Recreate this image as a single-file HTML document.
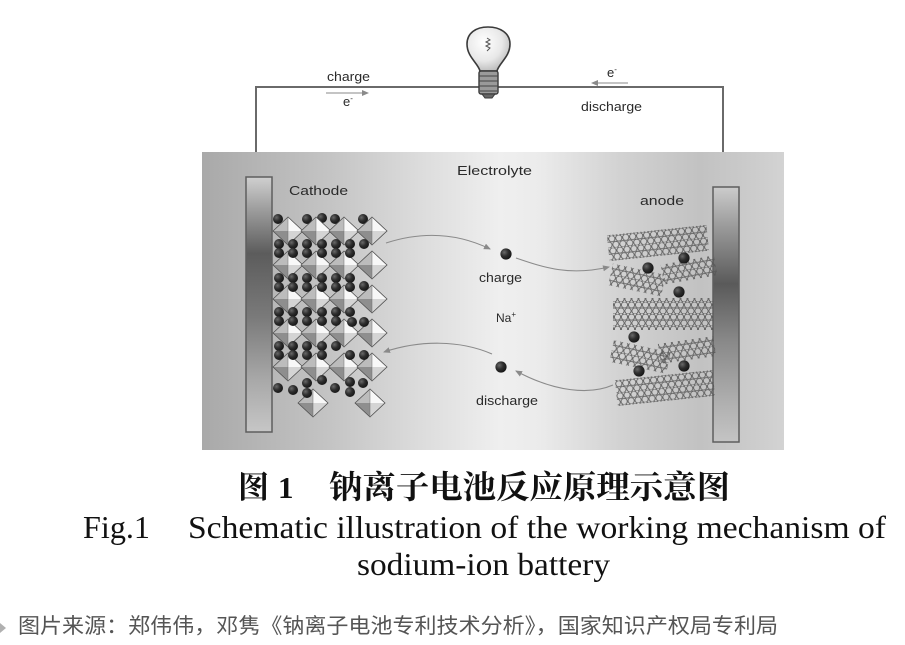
<!DOCTYPE html>
<html>
<head>
<meta charset="utf-8">
<style>
html,body{margin:0;padding:0;background:#fff;}
svg{display:block;}
</style>
</head>
<body>
<svg width="905" height="645" viewBox="0 0 905 645" xmlns="http://www.w3.org/2000/svg">
<defs>
  <linearGradient id="elec" gradientUnits="userSpaceOnUse" x1="202" y1="0" x2="784" y2="0">
    <stop offset="0" stop-color="#a9a9a9"/>
    <stop offset="0.082" stop-color="#b3b3b3"/>
    <stop offset="0.22" stop-color="#c4c4c4"/>
    <stop offset="0.375" stop-color="#dcdcdc"/>
    <stop offset="0.512" stop-color="#efefef"/>
    <stop offset="0.581" stop-color="#ebebeb"/>
    <stop offset="0.718" stop-color="#d2d2d2"/>
    <stop offset="0.856" stop-color="#c2c2c2"/>
    <stop offset="0.924" stop-color="#c9c9c9"/>
    <stop offset="1" stop-color="#d3d3d3"/>
  </linearGradient>
  <linearGradient id="barC" x1="0" y1="0" x2="0" y2="1">
    <stop offset="0" stop-color="#d0d0d0"/>
    <stop offset="0.12" stop-color="#a0a0a0"/>
    <stop offset="0.3" stop-color="#5c5c5c"/>
    <stop offset="0.55" stop-color="#7a7a7a"/>
    <stop offset="0.8" stop-color="#a9a9a9"/>
    <stop offset="1" stop-color="#c6c6c6"/>
  </linearGradient>
  <linearGradient id="barA" x1="0" y1="0" x2="0" y2="1">
    <stop offset="0" stop-color="#cccccc"/>
    <stop offset="0.15" stop-color="#9c9c9c"/>
    <stop offset="0.38" stop-color="#5a5a5a"/>
    <stop offset="0.6" stop-color="#888888"/>
    <stop offset="0.85" stop-color="#b0b0b0"/>
    <stop offset="1" stop-color="#c4c4c4"/>
  </linearGradient>
  <radialGradient id="ballg" cx="0.35" cy="0.35" r="0.7">
    <stop offset="0" stop-color="#6a6a6a"/>
    <stop offset="0.5" stop-color="#2e2e2e"/>
    <stop offset="1" stop-color="#151515"/>
  </radialGradient>
  <radialGradient id="bulbg" cx="0.4" cy="0.35" r="0.7">
    <stop offset="0" stop-color="#ffffff"/>
    <stop offset="0.6" stop-color="#e8e8e8"/>
    <stop offset="1" stop-color="#b8b8b8"/>
  </radialGradient>
  <pattern id="hex" patternUnits="userSpaceOnUse" width="7" height="12.1">
    <circle cx="3.5" cy="3.02" r="3.1" fill="none" stroke="#555" stroke-width="0.8"/>
    <circle cx="0" cy="9.07" r="3.1" fill="none" stroke="#555" stroke-width="0.8"/>
    <circle cx="7" cy="9.07" r="3.1" fill="none" stroke="#555" stroke-width="0.8"/>
  </pattern>
  <g id="oc">
    <polygon points="-15,0 0,-14 0,0" fill="#bcbcbc"/>
    <polygon points="0,-14 15,0 0,0" fill="#f8f8f8"/>
    <polygon points="-15,0 0,14 0,0" fill="#8e8e8e"/>
    <polygon points="0,0 15,0 0,14" fill="#d4d4d4"/>
    <polygon points="-15,0 0,-14 15,0 0,14" fill="none" stroke="#505050" stroke-width="0.8"/>
    <line x1="0" y1="-14" x2="0" y2="14" stroke="#707070" stroke-width="0.5"/>
  </g>
  <circle id="b" r="5" fill="url(#ballg)"/>
  <circle id="bb" r="5.6" fill="url(#ballg)"/>
  <marker id="ah" markerWidth="8" markerHeight="8" refX="6" refY="3" orient="auto" markerUnits="userSpaceOnUse">
    <path d="M0,0 L7,3 L0,6 z" fill="#8a8a8a"/>
  </marker>
</defs>

<rect x="0" y="0" width="905" height="645" fill="#fff"/>

<!-- wires -->
<g stroke="#6a6a6a" stroke-width="2" fill="none">
  <polyline points="256,177 256,87 723,87 723,187"/>
</g>

<!-- bulb -->
<g>
  <path d="M480,71 C478,63 467,57 467,44 C467,33 476,27 488,27 C500,27 510,33 510,44 C510,57 499,63 497,71 Z" fill="url(#bulbg)" stroke="#3a3a3a" stroke-width="1.6"/>
  <path d="M487,38 l3,2 l-4,2 l4,2 l-4,2 l4,2 l-3,3" fill="none" stroke="#555" stroke-width="1"/>
  <rect x="479" y="71" width="19" height="23" rx="2" fill="#9a9a9a" stroke="#3a3a3a" stroke-width="1.4"/>
  <g stroke="#444" stroke-width="1">
    <line x1="479" y1="76" x2="498" y2="76"/>
    <line x1="479" y1="81" x2="498" y2="81"/>
    <line x1="479" y1="86" x2="498" y2="86"/>
    <line x1="480" y1="91" x2="497" y2="91"/>
  </g>
  <path d="M482,94 L495,94 L492,98 L485,98 Z" fill="#666" stroke="#3a3a3a" stroke-width="1"/>
</g>

<!-- top labels -->
<g font-family="Liberation Sans, sans-serif" font-size="13" fill="#2a2a2a">
  <text x="327" y="81" textLength="43" lengthAdjust="spacingAndGlyphs">charge</text>
  <text x="343" y="106">e<tspan dy="-5" font-size="8">-</tspan></text>
  <text x="607" y="77">e<tspan dy="-5" font-size="8">-</tspan></text>
  <text x="581" y="111" textLength="61" lengthAdjust="spacingAndGlyphs">discharge</text>
</g>
<line x1="326" y1="93" x2="368" y2="93" stroke="#8a8a8a" stroke-width="1" marker-end="url(#ah)"/>
<line x1="628" y1="83" x2="592" y2="83" stroke="#8a8a8a" stroke-width="1" marker-end="url(#ah)"/>

<!-- electrolyte box -->
<rect x="202" y="152" width="582" height="298" fill="url(#elec)"/>

<!-- bars -->
<rect x="246" y="177" width="26" height="255" fill="url(#barC)" stroke="#5e5e5e" stroke-width="1.5"/>
<rect x="713" y="187" width="26" height="255" fill="url(#barA)" stroke="#5e5e5e" stroke-width="1.5"/>

<!-- cathode crystal -->
<g>
  <use href="#b" x="278" y="219"/><use href="#b" x="307" y="219"/><use href="#b" x="322" y="218"/><use href="#b" x="335" y="219"/><use href="#b" x="363" y="219"/>
  <use href="#oc" x="288" y="231"/><use href="#oc" x="316" y="231"/><use href="#oc" x="344" y="231"/><use href="#oc" x="372" y="231"/>
  <use href="#oc" x="288" y="265"/><use href="#oc" x="316" y="265"/><use href="#oc" x="344" y="265"/><use href="#oc" x="372" y="265"/>
  <use href="#oc" x="288" y="299"/><use href="#oc" x="316" y="299"/><use href="#oc" x="344" y="299"/><use href="#oc" x="372" y="299"/>
  <use href="#oc" x="288" y="333"/><use href="#oc" x="316" y="333"/><use href="#oc" x="344" y="333"/><use href="#oc" x="372" y="333"/>
  <use href="#oc" x="288" y="367"/><use href="#oc" x="316" y="367"/><use href="#oc" x="344" y="367"/><use href="#oc" x="372" y="367"/>
  <use href="#oc" x="313" y="403"/><use href="#oc" x="370" y="403"/>
  <g>
    <use href="#b" x="279" y="244"/><use href="#b" x="293" y="244"/><use href="#b" x="307" y="244"/><use href="#b" x="322" y="244"/><use href="#b" x="336" y="244"/><use href="#b" x="350" y="244"/><use href="#b" x="364" y="244"/>
    <use href="#b" x="279" y="253"/><use href="#b" x="293" y="253"/><use href="#b" x="307" y="253"/><use href="#b" x="322" y="253"/><use href="#b" x="336" y="253"/><use href="#b" x="350" y="253"/>

    <use href="#b" x="279" y="278"/><use href="#b" x="293" y="278"/><use href="#b" x="307" y="278"/><use href="#b" x="322" y="278"/><use href="#b" x="336" y="278"/><use href="#b" x="350" y="278"/>
    <use href="#b" x="279" y="287"/><use href="#b" x="293" y="287"/><use href="#b" x="307" y="287"/><use href="#b" x="322" y="287"/><use href="#b" x="336" y="287"/><use href="#b" x="350" y="287"/><use href="#b" x="364" y="286"/>

    <use href="#b" x="279" y="312"/><use href="#b" x="293" y="312"/><use href="#b" x="307" y="312"/><use href="#b" x="322" y="312"/><use href="#b" x="336" y="312"/><use href="#b" x="350" y="312"/>
    <use href="#b" x="279" y="321"/><use href="#b" x="293" y="321"/><use href="#b" x="307" y="321"/><use href="#b" x="322" y="321"/><use href="#b" x="336" y="321"/><use href="#b" x="352" y="322"/><use href="#b" x="364" y="322"/>

    <use href="#b" x="279" y="346"/><use href="#b" x="293" y="346"/><use href="#b" x="307" y="346"/><use href="#b" x="322" y="346"/><use href="#b" x="336" y="346"/>
    <use href="#b" x="279" y="355"/><use href="#b" x="293" y="355"/><use href="#b" x="307" y="355"/><use href="#b" x="322" y="355"/><use href="#b" x="350" y="355"/><use href="#b" x="364" y="355"/>

    <use href="#b" x="278" y="388"/><use href="#b" x="293" y="390"/><use href="#b" x="307" y="383"/><use href="#b" x="322" y="380"/><use href="#b" x="335" y="388"/><use href="#b" x="350" y="382"/><use href="#b" x="363" y="383"/><use href="#b" x="350" y="392"/><use href="#b" x="307" y="393"/>
  </g>
</g>

<!-- anode graphene sheets -->
<g>
  <g transform="translate(658,243) rotate(-6)"><rect x="-50" y="-13" width="100" height="26" fill="url(#hex)"/></g>
  <g transform="translate(637,280) rotate(12)"><rect x="-27" y="-11" width="54" height="22" fill="url(#hex)"/></g>
  <g transform="translate(689,270) rotate(-10)"><rect x="-27" y="-10" width="54" height="20" fill="url(#hex)"/></g>
  <g transform="translate(663,314)"><rect x="-50" y="-16" width="100" height="32" fill="url(#hex)"/></g>
  <g transform="translate(640,357) rotate(12)"><rect x="-29" y="-11" width="58" height="22" fill="url(#hex)"/></g>
  <g transform="translate(687,350) rotate(-8)"><rect x="-28" y="-10" width="56" height="20" fill="url(#hex)"/></g>
  <g transform="translate(665,388) rotate(-6)"><rect x="-49" y="-13" width="98" height="26" fill="url(#hex)"/></g>
  <use href="#bb" x="648" y="268"/><use href="#bb" x="684" y="258"/><use href="#bb" x="679" y="292"/>
  <use href="#bb" x="634" y="337"/><use href="#bb" x="639" y="371"/><use href="#bb" x="684" y="366"/>
</g>

<!-- ion arrows -->
<g fill="none" stroke="#8a8a8a" stroke-width="1.1">
  <path d="M386,243 C420,232 455,232 490,249" marker-end="url(#ah)"/>
  <path d="M516,258 C545,268 570,276 609,267" marker-end="url(#ah)"/>
  <path d="M613,385 C590,395 555,392 516,371" marker-end="url(#ah)"/>
  <path d="M492,354 C460,340 420,340 384,352" marker-end="url(#ah)"/>
</g>
<use href="#bb" x="506" y="254"/>
<use href="#bb" x="501" y="367"/>

<!-- diagram labels -->
<g font-family="Liberation Sans, sans-serif" font-size="13" fill="#2a2a2a">
  <text x="457" y="175" textLength="75" lengthAdjust="spacingAndGlyphs">Electrolyte</text>
  <text x="289" y="195" textLength="59" lengthAdjust="spacingAndGlyphs">Cathode</text>
  <text x="640" y="205" textLength="44" lengthAdjust="spacingAndGlyphs">anode</text>
  <text x="479" y="282" textLength="43" lengthAdjust="spacingAndGlyphs">charge</text>
  <text x="496" y="322" font-size="12">Na<tspan dy="-5" font-size="8">+</tspan></text>
  <text x="476" y="405" textLength="62" lengthAdjust="spacingAndGlyphs">discharge</text>
</g>

<!-- captions -->
<g font-family="Liberation Serif, 'Noto Serif CJK SC', serif" font-weight="bold" fill="#111">
  <text x="238" y="498" font-size="31">图</text>
  <text x="278" y="498" font-size="31">1</text>
  <text x="329" y="498" font-size="32" textLength="401" lengthAdjust="spacingAndGlyphs">钠离子电池反应原理示意图</text>
</g>
<g font-family="Liberation Serif, serif" font-size="32" fill="#111">
  <text x="83" y="538" textLength="67" lengthAdjust="spacingAndGlyphs">Fig.1</text>
  <text x="188" y="538" textLength="698" lengthAdjust="spacingAndGlyphs">Schematic illustration of the working mechanism of</text>
  <text x="357" y="575" textLength="253" lengthAdjust="spacingAndGlyphs">sodium-ion battery</text>
</g>

<!-- source line -->
<polygon points="0,623 6,628 0,633" fill="#b0b0b0"/>
<text x="18" y="633" font-family="Liberation Sans, 'Noto Sans CJK SC', sans-serif" font-size="21" fill="#555" textLength="760" lengthAdjust="spacingAndGlyphs">图片来源：郑伟伟，邓隽《钠离子电池专利技术分析》，国家知识产权局专利局</text>
</svg>
</body>
</html>
